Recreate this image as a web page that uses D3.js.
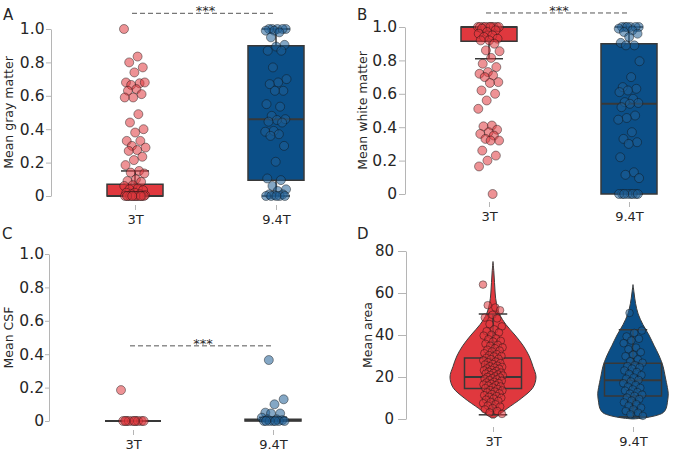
<!DOCTYPE html>
<html>
<head>
<meta charset="utf-8">
<script src="https://cdn.jsdelivr.net/npm/d3@7"></script>
<style>
body{margin:0;background:#fff}
text{font-family:"DejaVu Sans",sans-serif;fill:#262626}
</style>
</head>
<body>
<div class="canvas"></div>
<script>
// groups + colours
const groups=['3T','9.4T'];
const boxColors=['#e0383e','#0b4f88'];
const dotColors=['#e0383e','#1f5f95'];

// A - gray matter
const gm3T=[1.0,0.835,0.80,0.77,0.74,0.68,0.675,0.665,0.68,0.64,0.63,0.61,0.59,0.59,0.49,0.44,0.40,0.38,0.33,0.33,0.30,0.29,0.275,0.27,0.235,0.215,0.185,0.15,0.14,0.135,0.10,0.09,0.085,0.065,0.06,0.045,0.04,0.035,0.02,0.02,0.01,0.01,0.005,0,0,0,0,0,0,0,0,0,0,0,0];
const gm94T=[1.0,1.0,1.0,1.0,1.0,0.99,0.99,0.98,0.95,0.905,0.895,0.87,0.87,0.77,0.70,0.68,0.67,0.63,0.63,0.55,0.535,0.48,0.46,0.455,0.445,0.44,0.39,0.385,0.37,0.36,0.30,0.205,0.105,0.095,0.06,0.04,0.03,0.01,0.01,0.005,0,0,0,0,0];
// box stats: q1, median, q3, whisker low, whisker high
const gmBox=[[0,0,0.07,0,0.15],[0.095,0.46,0.90,0,1.0]];

// B - white matter
const wm3T=[1,1,1,1,1,1,1,1,1,1,0.99,0.98,0.97,0.96,0.95,0.94,0.93,0.92,0.92,0.90,0.86,0.855,0.815,0.78,0.76,0.73,0.72,0.71,0.70,0.67,0.665,0.62,0.60,0.56,0.51,0.41,0.405,0.385,0.37,0.36,0.35,0.33,0.32,0.32,0.26,0.23,0.20,0.165,0];
const wm94T=[1,1,1,1,1,1,0.99,0.98,0.97,0.96,0.94,0.905,0.89,0.89,0.795,0.70,0.64,0.63,0.62,0.61,0.57,0.55,0.545,0.54,0.52,0.47,0.455,0.445,0.37,0.33,0.31,0.30,0.22,0.13,0.115,0.095,0,0,0,0,0,0,0,0];
const wmBox=[[0.915,1.0,1.0,0.81,1.0],[0,0.54,0.90,0,1.0]];

// C - CSF
const csf3T=[0.185,0,0,0,0,0,0,0,0,0,0];
const csf94T=[0.365,0.13,0.10,0.05,0.045,0.045,0.02,0.01,0.01,0.005,0,0,0,0,0,0,0];
const csfBox=[[0,0,0,0,0],[0,0.005,0.01,0,0.022]];

// D - area
const area3T=[64.0,53.1,54.2,51.8,49.6,48.3,47.9,45.2,44.1,42.7,41.8,41.2,40.1,39.7,38.4,38.0,37.2,36.9,35.8,35.3,34.9,34.1,33.7,33.0,32.6,32.2,31.3,30.9,30.4,30.0,29.8,29.1,28.7,28.5,27.9,27.3,27.0,26.6,26.2,25.9,25.4,25.1,24.8,24.5,24.1,23.9,23.4,23.2,22.8,22.5,22.1,21.9,21.6,21.2,20.9,20.7,20.3,20.0,19.8,19.4,19.1,18.9,18.5,18.2,17.7,17.4,17.1,16.8,16.4,16.1,15.9,15.5,15.0,14.7,14.3,13.8,13.6,13.1,12.7,12.2,11.9,11.3,10.9,10.6,10.1,9.7,9.2,8.6,8.1,7.5,7.0,6.4,5.9,5.2,4.6,3.8,3.1,2.4];
const area94T=[50.5,42.1,41.0,39.3,38.2,37.4,36.1,34.0,33.2,31.8,30.6,29.9,28.4,27.5,26.8,25.7,25.2,24.6,24.0,23.1,22.4,21.5,20.9,19.8,19.2,18.6,17.9,17.0,16.2,15.4,14.8,14.1,13.5,12.8,12.1,11.6,11.0,10.2,9.5,8.8,7.9,7.1,6.3,5.4,4.6,3.8,3.0,2.2,1.5];
const areaBox=[[14.5,20,29,2,50],[11,18.5,26.5,1,42.5]];
// violin outlines (level, relative density)
const vLevels3T=[75,70,65,60,55,50,45,40,35,30,25,20,15,10,5,2,0.5];
const vDens3T=[0,0.02,0.035,0.05,0.08,0.15,0.3,0.51,0.7,0.84,0.93,1.0,0.93,0.67,0.33,0.14,0.04];
const vLevels94T=[64,60,55,50,45,40,35,30,25,20,15,12,8,5,3,1.5,0.5,0];
const vDens94T=[0,0.025,0.06,0.12,0.23,0.37,0.49,0.61,0.70,0.75,0.80,0.82,0.80,0.77,0.70,0.51,0.25,0];

const fracTicks=[0,0.2,0.4,0.6,0.8,1.0];
const areaTicks=[0,20,40,60,80];

const svg=d3.select('.canvas').append('svg')
.attr('width',677)
.attr('height',451);

// fixed quasi-random jitter so runs look the same
const jit=i=>((i*0.6180339887)%1)-0.5;

function panel(p){
    const g=svg.append('g');
    const y=d3.scaleLinear().domain(p.domain).range([p.yBot,p.yTop]);
    const x=d3.scalePoint().domain(groups).range(p.centers);
    const bw=p.boxW;

    // y axis
    const yAxis=d3.axisLeft(y).tickValues(p.ticks).tickFormat(p.fmt)
    .tickSize(p.tick[0]).tickSizeOuter(0).tickPadding(p.tick[1]);
    const ya=g.append('g').attr('transform',`translate(${p.axisX},0)`).call(yAxis);
    ya.select('.domain').attr('stroke','#b5b5b5');
    ya.selectAll('.tick line').attr('stroke','#b5b5b5');
    ya.selectAll('text').style('font-size',p.tickFont+'px').attr('fill','#262626');

    // x axis (offset, no line)
    const xa=g.append('g').attr('transform',`translate(0,${p.xTickY})`)
    .call(d3.axisBottom(x).tickSize(5).tickSizeOuter(0).tickPadding(5));
    xa.select('.domain').remove();
    xa.selectAll('.tick line').attr('stroke','#b5b5b5');
    xa.selectAll('text').style('font-size',p.xFont+'px').attr('fill','#262626');

    // axis label + panel letter
    g.append('text')
    .attr('transform',`translate(${p.labelX},${(p.yTop+p.yBot)/2}) rotate(-90)`)
    .attr('text-anchor','middle')
    .style('font-size','12.5px')
    .text(p.label);
    g.append('text').attr('x',p.letter[1]).attr('y',p.letter[2])
    .style('font-size','15px').text(p.letter[0]);

    // violins
    if(p.violin){
        const w=d3.scaleLinear().domain([0,1]).range([0,43]);
        p.violin.forEach((v,k)=>{
            const cx=x(groups[k]);
            const pts=v[0].map((l,i)=>({l:l,d:v[1][i]}));
            g.append('path')
            .attr('d',d3.area().curve(d3.curveCatmullRom)
                .y(d=>y(d.l)).x0(d=>cx-w(d.d)).x1(d=>cx+w(d.d))(pts))
            .attr('fill',boxColors[k])
            .attr('stroke','#3c3c3c')
            .attr('stroke-width',1);
        });
    }

    // boxes
    p.box.forEach((s,k)=>{
        const cx=x(groups[k]);
        const [q1,med,q3,lo,hi]=s;
        const bg=g.append('g').attr('stroke','#383838');
        bg.append('line').attr('x1',cx).attr('x2',cx).attr('y1',y(q3)).attr('y2',y(hi)).attr('stroke-width',1.5);
        bg.append('line').attr('x1',cx).attr('x2',cx).attr('y1',y(q1)).attr('y2',y(lo)).attr('stroke-width',1.5);
        bg.append('path')
        .attr('d',`M${cx-bw/2},${y(q1)}H${cx+bw/2}V${y(q3)}H${cx-bw/2}Z`)
        .attr('fill',p.violin?'none':boxColors[k])
        .attr('stroke-width',1.5);
        bg.append('line').attr('x1',cx-bw/2).attr('x2',cx+bw/2).attr('y1',y(med)).attr('y2',y(med)).attr('stroke-width',2);
        [lo,hi].forEach(c=>{
            bg.append('line').attr('x1',cx-bw/4).attr('x2',cx+bw/4).attr('y1',y(c)).attr('y2',y(c)).attr('stroke-width',1.5);
        });
    });

    // jittered dots
    p.values.forEach((vals,k)=>{
        const cx=x(groups[k]);
        g.append('g').selectAll('circle')
        .data(vals)
        .enter().append('circle')
        .attr('cx',(d,i)=>cx+jit(i+k*7)*2*p.jitter)
        .attr('cy',d=>y(d))
        .attr('r',p.r)
        .attr('fill',dotColors[k])
        .attr('fill-opacity',0.55)
        .attr('stroke','#111')
        .attr('stroke-opacity',0.55)
        .attr('stroke-width',0.8);
    });

    // significance bar
    if(p.sig!==undefined){
        const sy=y(p.sig);
        g.append('line')
        .attr('x1',x(groups[0])-3).attr('x2',x(groups[1]))
        .attr('y1',sy).attr('y2',sy)
        .attr('stroke','#555').attr('stroke-width',1)
        .attr('stroke-dasharray','5,3');
        g.append('text')
        .attr('x',(x(groups[0])+x(groups[1]))/2)
        .attr('y',sy+2)
        .attr('text-anchor','middle')
        .style('font-size','13px')
        .text('***');
    }
}

const fracFmt=d=>d===0?'0':d3.format('.1f')(d);

panel({letter:['A',3,20],axisX:51,yTop:29,yBot:196,centers:[135,276],domain:[0,1],
    ticks:fracTicks,fmt:fracFmt,tick:[5,1.5],tickFont:15.5,xFont:13,xTickY:205,label:'Mean gray matter',labelX:13,
    values:[gm3T,gm94T],box:gmBox,boxW:56,r:4.5,jitter:11,sig:1.094});
panel({letter:['B',357,20],axisX:405,yTop:27,yBot:194,centers:[489,629],domain:[0,1],
    ticks:fracTicks,fmt:fracFmt,tick:[6,2],tickFont:15.5,xFont:13,xTickY:202,label:'Mean white matter',labelX:367,
    values:[wm3T,wm94T],box:wmBox,boxW:56,r:4.5,jitter:11,sig:1.084});
panel({letter:['C',2,239],axisX:49,yTop:254,yBot:421,centers:[133,273],domain:[0,1],
    ticks:fracTicks,fmt:fracFmt,tick:[4,1],tickFont:15.5,xFont:13,xTickY:430,label:'Mean CSF',labelX:13,
    values:[csf3T,csf94T],box:csfBox,boxW:56,r:4.5,jitter:12,sig:0.45});
panel({letter:['D',357,239],axisX:406,yTop:251,yBot:419,centers:[493,633],domain:[0,80],
    ticks:areaTicks,fmt:d=>d,tick:[8,4],tickFont:15,xFont:13,xTickY:427,label:'Mean area',labelX:372,
    values:[area3T,area94T],box:areaBox,boxW:57,r:3.8,jitter:10,violin:[[vLevels3T,vDens3T],[vLevels94T,vDens94T]]});
</script>
</body>
</html>
